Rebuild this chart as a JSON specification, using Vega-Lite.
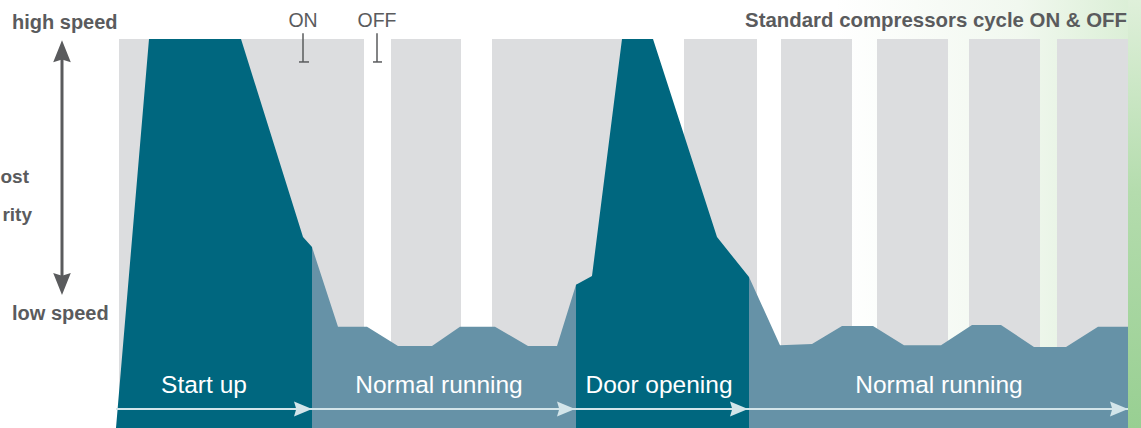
{
  "$schema": "https://vega.github.io/schema/vega-lite/v6.json",
  "width": 1141,
  "height": 428,
  "autosize": {"type": "none"},
  "padding": 0,
  "background": "white",
  "config": {"view": {"stroke": null}, "font": "Liberation Sans"},
  "datasets": {
    "one": [{}],
    "cycles": [
      {"on": 0.3, "off": 24.8},
      {"on": 27.5, "off": 34.5},
      {"on": 37.6, "off": 52.4},
      {"on": 56.8, "off": 64.1},
      {"on": 66.5, "off": 73.6},
      {"on": 76.1, "off": 83.2},
      {"on": 85.3, "off": 92.4},
      {"on": 94.1, "off": 101.2}
    ],
    "normal": [
      {"t": 19.6, "speed": 46.5},
      {"t": 22.2, "speed": 26.0},
      {"t": 25.1, "speed": 26.0},
      {"t": 28.2, "speed": 21.1},
      {"t": 31.6, "speed": 21.1},
      {"t": 34.4, "speed": 26.0},
      {"t": 37.9, "speed": 26.0},
      {"t": 41.2, "speed": 21.1},
      {"t": 44.1, "speed": 21.1},
      {"t": 46.0, "speed": 36.8},
      {"t": 63.3, "speed": 38.8},
      {"t": 66.4, "speed": 21.3},
      {"t": 69.6, "speed": 21.6},
      {"t": 72.6, "speed": 26.2},
      {"t": 75.7, "speed": 26.2},
      {"t": 78.8, "speed": 21.3},
      {"t": 82.5, "speed": 21.3},
      {"t": 85.6, "speed": 26.5},
      {"t": 88.5, "speed": 26.5},
      {"t": 91.8, "speed": 20.8},
      {"t": 95.0, "speed": 20.8},
      {"t": 98.2, "speed": 26.0},
      {"t": 101.2, "speed": 26.0}
    ],
    "peaks": [
      {"phase": "Start up", "t": 0.0, "speed": 0.0},
      {"phase": "Start up", "t": 3.3, "speed": 100},
      {"phase": "Start up", "t": 12.5, "speed": 100},
      {"phase": "Start up", "t": 18.7, "speed": 49.1},
      {"phase": "Start up", "t": 19.6, "speed": 46.5},
      {"phase": "Door opening", "t": 46.0, "speed": 36.8},
      {"phase": "Door opening", "t": 47.6, "speed": 39.1},
      {"phase": "Door opening", "t": 50.6, "speed": 100},
      {"phase": "Door opening", "t": 53.7, "speed": 100},
      {"phase": "Door opening", "t": 60.1, "speed": 49.1},
      {"phase": "Door opening", "t": 63.3, "speed": 38.8}
    ],
    "phases": [
      {"label": "Start up", "start": 0.0, "end": 19.6, "mid": 8.8},
      {"label": "Normal running", "start": 19.6, "end": 45.9, "mid": 32.3},
      {"label": "Door opening", "start": 45.9, "end": 63.2, "mid": 54.3},
      {"label": "Normal running", "start": 63.2, "end": 101.2, "mid": 82.3}
    ],
    "onoff": [
      {"label": "ON", "t": 18.7, "left": 18.3, "right": 19.3},
      {"label": "OFF", "t": 26.1, "left": 25.7, "right": 26.6}
    ]
  },
  "layer": [
    {
      "data": {"name": "one"},
      "mark": {"type": "rect", "color": {"gradient": "linear", "x1": 0, "y1": 0, "x2": 1, "y2": 0, "stops": [{"offset": 0, "color": "#ffffff"}, {"offset": 0.6, "color": "#f1f8ef"}, {"offset": 1, "color": "#d9eed4"}]}},
      "encoding": {
        "x": {"datum": 72, "type": "quantitative", "scale": {"domain": [-11.6, 102.5], "nice": false, "zero": false}, "axis": null},
        "x2": {"datum": 102.5},
        "y": {"datum": 0, "type": "quantitative", "scale": {"domain": [0, 110.03], "nice": false}, "axis": null},
        "y2": {"datum": 110.03}
      }
    },
    {
      "data": {"name": "one"},
      "mark": {"type": "rect", "color": {"gradient": "linear", "x1": 0, "y1": 0, "x2": 0, "y2": 1, "stops": [{"offset": 0, "color": "#dff0da"}, {"offset": 0.45, "color": "#b4dcad"}, {"offset": 1, "color": "#98cf92"}]}},
      "encoding": {
        "x": {"datum": 101.2, "type": "quantitative"},
        "x2": {"datum": 102.5},
        "y": {"datum": 0, "type": "quantitative"},
        "y2": {"datum": 110.03}
      }
    },
    {
      "data": {"name": "cycles"},
      "mark": {"type": "rect", "color": "#dcdddf"},
      "encoding": {
        "x": {"field": "on", "type": "quantitative"},
        "x2": {"field": "off"},
        "y": {"datum": 0, "type": "quantitative"},
        "y2": {"datum": 100}
      }
    },
    {
      "data": {"name": "normal"},
      "mark": {"type": "area", "color": "#6692a7", "opacity": 1},
      "encoding": {
        "x": {"field": "t", "type": "quantitative"},
        "y": {"field": "speed", "type": "quantitative", "stack": null}
      }
    },
    {
      "data": {"name": "peaks"},
      "mark": {"type": "area", "color": "#00677f", "opacity": 1},
      "encoding": {
        "x": {"field": "t", "type": "quantitative"},
        "y": {"field": "speed", "type": "quantitative", "stack": null},
        "detail": {"field": "phase"}
      }
    },
    {
      "data": {"name": "phases"},
      "mark": {"type": "rule", "color": "#d3e5ea", "strokeWidth": 2},
      "encoding": {
        "x": {"field": "start", "type": "quantitative"},
        "x2": {"field": "end"},
        "y": {"datum": 4.9, "type": "quantitative"}
      }
    },
    {
      "data": {"name": "phases"},
      "mark": {"type": "point", "shape": "M0,0L-2,-0.83L-1.75,0L-2,0.83Z", "size": 324, "filled": true, "color": "#d3e5ea", "opacity": 1},
      "encoding": {
        "x": {"field": "end", "type": "quantitative"},
        "y": {"datum": 4.9, "type": "quantitative"}
      }
    },
    {
      "data": {"name": "phases"},
      "mark": {"type": "text", "color": "white", "fontSize": 24.5, "align": "center", "baseline": "alphabetic"},
      "encoding": {
        "x": {"field": "mid", "type": "quantitative"},
        "y": {"datum": 9.0, "type": "quantitative"},
        "text": {"field": "label"}
      }
    },
    {
      "data": {"name": "onoff"},
      "mark": {"type": "rule", "color": "#5a5b5d", "strokeWidth": 1.5},
      "encoding": {
        "x": {"field": "t", "type": "quantitative"},
        "y": {"datum": 101.5, "type": "quantitative"},
        "y2": {"datum": 94.1}
      }
    },
    {
      "data": {"name": "onoff"},
      "mark": {"type": "rule", "color": "#5a5b5d", "strokeWidth": 1.5},
      "encoding": {
        "x": {"field": "left", "type": "quantitative"},
        "x2": {"field": "right"},
        "y": {"datum": 94.1, "type": "quantitative"}
      }
    },
    {
      "data": {"name": "onoff"},
      "mark": {"type": "text", "color": "#5a5b5d", "fontSize": 19.5, "align": "center", "baseline": "alphabetic"},
      "encoding": {
        "x": {"field": "t", "type": "quantitative"},
        "y": {"datum": 103.1, "type": "quantitative"},
        "text": {"field": "label"}
      }
    },
    {
      "data": {"name": "one"},
      "mark": {"type": "text", "color": "#5a5b5d", "fontSize": 20.4, "fontWeight": "bold", "align": "right", "baseline": "alphabetic"},
      "encoding": {
        "x": {"datum": 101.1, "type": "quantitative"},
        "y": {"datum": 103.1, "type": "quantitative"},
        "text": {"value": "Standard compressors cycle ON & OFF"}
      }
    },
    {
      "data": {"name": "one"},
      "mark": {"type": "text", "color": "#5a5b5d", "fontSize": 20, "fontWeight": "bold", "align": "left", "baseline": "alphabetic"},
      "encoding": {
        "x": {"datum": -10.4, "type": "quantitative"},
        "y": {"datum": 102.6, "type": "quantitative"},
        "text": {"value": "high speed"}
      }
    },
    {
      "data": {"name": "one"},
      "mark": {"type": "text", "color": "#5a5b5d", "fontSize": 20, "fontWeight": "bold", "align": "left", "baseline": "alphabetic"},
      "encoding": {
        "x": {"datum": -10.4, "type": "quantitative"},
        "y": {"datum": 27.8, "type": "quantitative"},
        "text": {"value": "low speed"}
      }
    },
    {
      "data": {"name": "one"},
      "mark": {"type": "text", "color": "#5a5b5d", "fontSize": 19, "fontWeight": "bold", "align": "right", "baseline": "middle"},
      "encoding": {
        "x": {"datum": -8.7, "type": "quantitative"},
        "y": {"datum": 64.5, "type": "quantitative"},
        "text": {"value": "ost"}
      }
    },
    {
      "data": {"name": "one"},
      "mark": {"type": "text", "color": "#5a5b5d", "fontSize": 19, "fontWeight": "bold", "align": "right", "baseline": "middle"},
      "encoding": {
        "x": {"datum": -8.4, "type": "quantitative"},
        "y": {"datum": 54.8, "type": "quantitative"},
        "text": {"value": "rity"}
      }
    },
    {
      "data": {"name": "one"},
      "mark": {"type": "rule", "color": "#5a5b5d", "strokeWidth": 3},
      "encoding": {
        "x": {"datum": -5.4, "type": "quantitative"},
        "y": {"datum": 96, "type": "quantitative"},
        "y2": {"datum": 38}
      }
    },
    {
      "data": {"name": "one"},
      "mark": {"type": "point", "shape": "M0,0L0.8,2L0,1.75L-0.8,2Z", "size": 484, "filled": true, "color": "#5a5b5d", "opacity": 1},
      "encoding": {
        "x": {"datum": -5.4, "type": "quantitative"},
        "y": {"datum": 99.7, "type": "quantitative"}
      }
    },
    {
      "data": {"name": "one"},
      "mark": {"type": "point", "shape": "M0,0L0.8,-2L0,-1.75L-0.8,-2Z", "size": 484, "filled": true, "color": "#5a5b5d", "opacity": 1},
      "encoding": {
        "x": {"datum": -5.4, "type": "quantitative"},
        "y": {"datum": 34.2, "type": "quantitative"}
      }
    }
  ]
}
